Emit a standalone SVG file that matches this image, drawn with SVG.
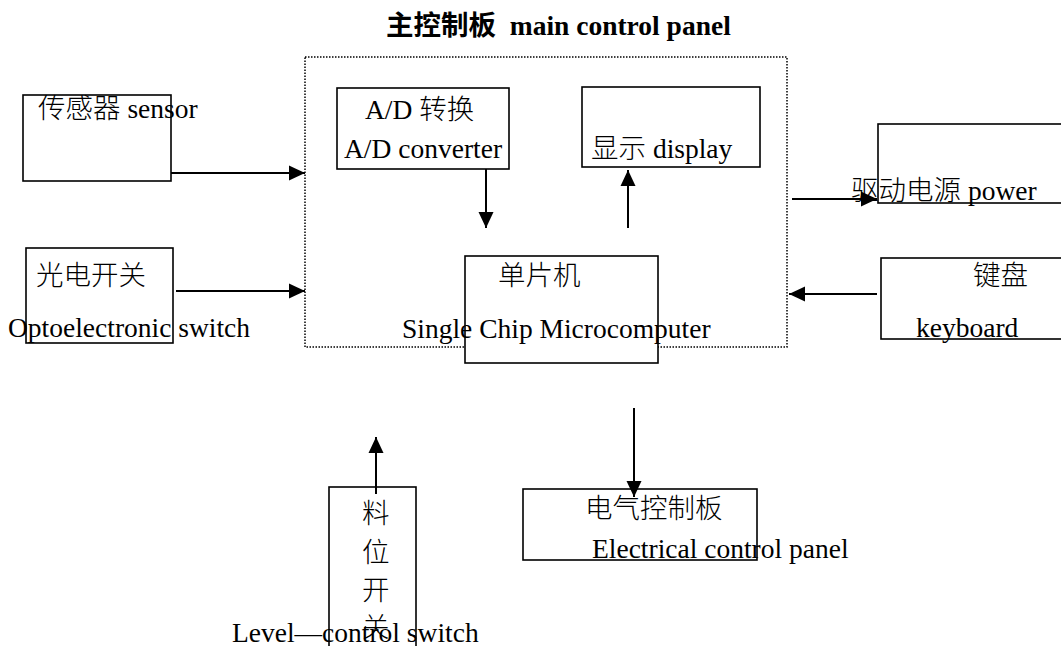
<svg xmlns="http://www.w3.org/2000/svg" width="1061" height="646" viewBox="0 0 1061 646">
<style>
text{font-family:"Liberation Serif","Noto Sans CJK SC",serif;font-size:27.5px;fill:#000;white-space:pre}
.title{font-weight:bold}
.c{font-weight:300}
.box{fill:#fff;stroke:#000;stroke-width:1.6}
.dot{fill:none;stroke:#000;stroke-width:1.5;stroke-dasharray:1.5 1.5}
.conn{fill:none;stroke:#000;stroke-width:2;marker-end:url(#arr)}
</style>
<defs>
<marker id="arr" markerUnits="userSpaceOnUse" markerWidth="16" markerHeight="16" viewBox="0 0 16 16" refX="16" refY="8" orient="auto">
<path d="M0,0.5 L16,8 L0,15.5 z" fill="#000"/>
</marker>
</defs>
<rect width="1061" height="646" fill="#fff"/>
<g id="main-panel">
<rect class="dot" x="305" y="57" width="482" height="290"/>
<text class="title" x="386" y="35">主控制板  main control panel</text>
</g>
<g id="sensor">
<rect class="box" x="23" y="95" width="148" height="86"/>
<text x="38" y="118"><tspan class="c">传感器</tspan> sensor</text>
</g>
<g id="opto">
<rect class="box" x="26" y="248" width="147" height="95"/>
<text class="c" x="36" y="285">光电开关</text>
<text x="8" y="337">Optoelectronic switch</text>
</g>
<g id="ad">
<rect class="box" x="337" y="88" width="172" height="81"/>
<text x="365" y="119">A/D <tspan class="c">转换</tspan></text>
<text x="344" y="158">A/D converter</text>
</g>
<g id="display">
<rect class="box" x="582" y="87" width="178" height="80"/>
<text x="591" y="158"><tspan class="c">显示</tspan> display</text>
</g>
<g id="mcu">
<rect class="box" x="465" y="256" width="193" height="107"/>
<text class="c" x="498" y="285">单片机</text>
<text x="402" y="338">Single Chip Microcomputer</text>
</g>
<g id="power">
<rect class="box" x="878" y="124" width="200" height="79"/>
<text x="851" y="200"><tspan class="c">驱动电源</tspan> power</text>
</g>
<g id="keyboard">
<rect class="box" x="881" y="258" width="200" height="81"/>
<text class="c" x="973" y="285">键盘</text>
<text x="916" y="337">keyboard</text>
</g>
<g id="level">
<rect class="box" x="329" y="487" width="87" height="200"/>
<text class="c" x="362" y="523">料</text>
<text class="c" x="362" y="562">位</text>
<text class="c" x="362" y="600">开</text>
<text class="c" x="362" y="637">关</text>
<text x="232" y="642">Level—control switch</text>
</g>
<g id="electrical">
<rect class="box" x="523" y="489" width="234" height="71"/>
<text class="c" x="585" y="518">电气控制板</text>
<text x="592" y="558">Electrical control panel</text>
</g>
<g id="connectors">
<path class="conn" d="M171,173 L305,173"/>
<path class="conn" d="M176,291 L305,291"/>
<path class="conn" d="M486,169 L486,228"/>
<path class="conn" d="M628,228 L628,170"/>
<path class="conn" d="M792,199 L877,199"/>
<path class="conn" d="M877,294 L789,294"/>
<path class="conn" d="M376,494 L376,437"/>
<path class="conn" d="M634,408 L634,497"/>
</g>
</svg>
